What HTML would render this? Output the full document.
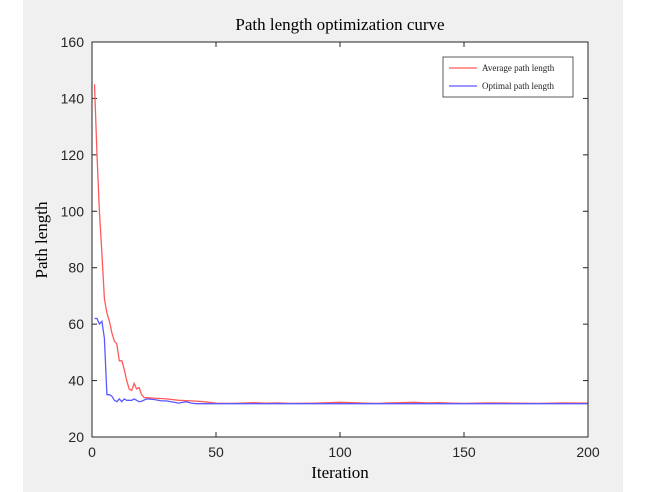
<!DOCTYPE html>
<html><head><meta charset="utf-8"><style>
body{margin:0;background:#fff;width:650px;height:492px;overflow:hidden}
svg{display:block}
</style></head><body>
<svg id="chart" width="650" height="492">
<rect x="23" y="0" width="600" height="492" fill="#f0f0f0"/>
<rect x="92" y="42" width="496" height="395" fill="#fff"/>
<g id="grid"></g>
<g id="lines"></g>
<rect x="92" y="42" width="496" height="395" fill="none" stroke="#262626" stroke-width="1"/>
<text x="340" y="30" text-anchor="middle" font-family="Liberation Serif, serif" font-size="17" fill="#000">Path length optimization curve</text>
<text x="340" y="478" text-anchor="middle" font-family="Liberation Serif, serif" font-size="17" fill="#000">Iteration</text>
<text transform="translate(47,240) rotate(-90)" text-anchor="middle" font-family="Liberation Serif, serif" font-size="17" fill="#000">Path length</text>
<g>
<rect x="443" y="57" width="130" height="40" fill="#fff" stroke="#333" stroke-width="0.8"/>
<line x1="449" y1="68" x2="477" y2="68" stroke="#ff5a5a" stroke-width="1.3"/>
<text x="482" y="71" font-family="Liberation Serif, serif" font-size="9" fill="#222">Average path length</text>
<line x1="449" y1="86" x2="477" y2="86" stroke="#5a5aff" stroke-width="1.3"/>
<text x="482" y="89" font-family="Liberation Serif, serif" font-size="9" fill="#222">Optimal path length</text>
</g>
</svg>
<script>
const xTicks=[0,50,100,150,200];
const yTicks=[20,40,60,80,100,120,140,160];
const avgIter=[1,2,3,4,5,6,7,8,9,10,11,12,13,14,15,16,17,18,19,20,21,25,30,35,40,45,50,55,60,65,70,75,80,90,100,105,110,115,120,130,135,140,145,150,160,170,180,190,200];
const avgVals=[145,120,100,85,69,64,61,57,54,53,47,47,44,40,37,36.5,39,37,37.5,35,34,33.8,33.5,33,32.8,32.5,32,31.9,32,32.2,32,32.1,31.9,32,32.3,32.2,32,31.9,32.1,32.3,32.1,32.2,32,31.9,32.1,32,31.9,32.1,32];
const optIter=[1,2,3,4,5,6,7,8,9,10,11,12,13,14,15,16,17,18,19,20,22,25,28,30,35,38,40,42,50,100,150,200];
const optVals=[62,62,60,61,55,35,35,34.5,33,32.5,33.5,32.5,33.5,33,33,33,33.5,33,32.5,32.7,33.5,33.3,32.8,32.8,32,32.5,32,31.8,31.8,31.8,31.8,31.8];
const NS='http://www.w3.org/2000/svg';
const X=v=>92+(v-0)/200*496;
const Y=v=>437-(v-20)/140*395;
const svg=document.getElementById('chart');
const grid=document.getElementById('grid');
const lines=document.getElementById('lines');
function mk(tag,attrs,parent){const e=document.createElementNS(NS,tag);for(const k in attrs)e.setAttribute(k,attrs[k]);parent.appendChild(e);return e;}
xTicks.forEach(t=>{
 const l=mk('line',{x1:X(t),x2:X(t),y1:437,y2:432,stroke:'#262626'},grid);
 
 
 const l2=mk('line',{x1:X(t),x2:X(t),y1:42,y2:47,stroke:'#262626'},grid);
 
 
 const tx=mk('text',{x:X(t),y:457,'text-anchor':'middle','font-family':'Liberation Sans, sans-serif','font-size':'14',fill:'#262626'},svg);
 tx.textContent=t;
 
 
});
yTicks.forEach(t=>{
 const l=mk('line',{x1:92,x2:97,y1:Y(t),y2:Y(t),stroke:'#262626'},grid);
 
 
 const l2=mk('line',{x1:588,x2:583,y1:Y(t),y2:Y(t),stroke:'#262626'},grid);
 
 
 const tx=mk('text',{x:84,y:Y(t)+5,'text-anchor':'end','font-family':'Liberation Sans, sans-serif','font-size':'14',fill:'#262626'},svg);
 tx.textContent=t;
 
 
});
function pts(xs,ys){return xs.map((x,i)=>X(x).toFixed(1)+','+Y(ys[i]).toFixed(1)).join(' ');}
const pa=mk('polyline',{points:pts(avgIter,avgVals),fill:'none',stroke:'#ff5a5a','stroke-width':'1.3'},lines);


const po=mk('polyline',{points:pts(optIter,optVals),fill:'none',stroke:'#5a5aff','stroke-width':'1.3'},lines);


</script>
</body></html>
